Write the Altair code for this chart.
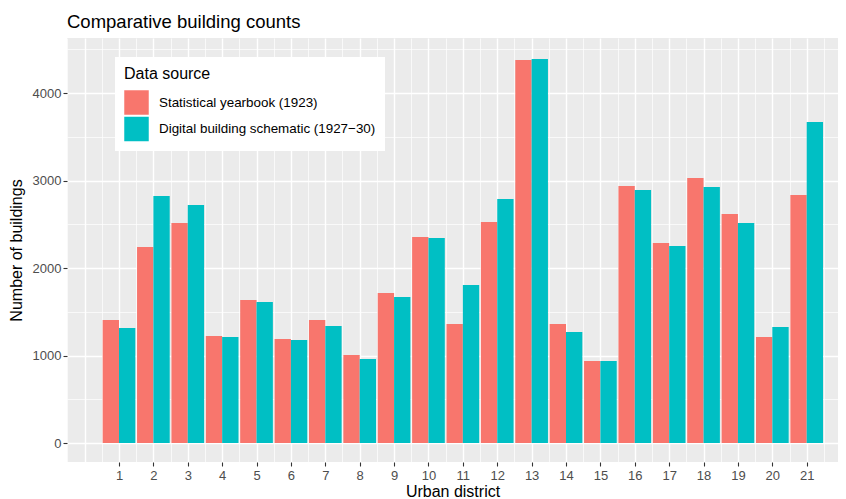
import altair as alt
import pandas as pd

districts = list(range(1, 22))
yearbook = [1406, 2240, 2514, 1223, 1634, 1189, 1406, 1006, 1714, 2354, 1360,
            2526, 4377, 1360, 937, 2937, 2286, 3029, 2617, 1211, 2834]
schematic = [1314, 2823, 2720, 1211, 1611, 1177, 1337, 960, 1669, 2343, 1806,
             2789, 4389, 1269, 937, 2891, 2251, 2926, 2514, 1326, 3669]
sources = ["Statistical yearbook (1923)", "Digital building schematic (1927\u221230)"]
colors = ["#F8766D", "#00BFC4"]

rows = []
for d, a, b in zip(districts, yearbook, schematic):
    rows.append({"district": d, "source": sources[0], "count": a})
    rows.append({"district": d, "source": sources[1], "count": b})
df = pd.DataFrame(rows)

FONT = "Liberation Sans"
x_vals = [v / 2 for v in range(-1, 44)]
y_vals = list(range(0, 4501, 500))

x_major = "datum.value % 1 === 0"
x_lab = "datum.value % 1 === 0 && datum.value >= 1 && datum.value <= 21"
y_major = "datum.value % 1000 === 0"

chart = alt.Chart(df).transform_calculate(
    x0=f"datum.district - (datum.source === '{sources[0]}' ? 0.475 : 0)",
    x1=f"datum.district + (datum.source === '{sources[0]}' ? 0 : 0.475)",
).mark_bar(strokeWidth=0).encode(
    x=alt.X("x0:Q",
            scale=alt.Scale(domain=[-0.512, 21.91], nice=False, zero=False),
            axis=alt.Axis(values=x_vals, title="Urban district",
                          labelExpr=f"{x_lab} ? format(datum.value, 'd') : ''",
                          grid=True, gridColor="white",
                          gridWidth={"condition": {"test": x_major, "value": 1.4}, "value": 0.7},
                          tickOpacity={"condition": {"test": x_lab, "value": 1}, "value": 0},
                          tickColor="#333333", tickSize=4, tickWidth=1.1,
                          domain=False, labelColor="#4D4D4D", labelFontSize=13,
                          labelFont=FONT, labelPadding=3,
                          titleFont=FONT, titleFontSize=16, titleFontWeight="normal",
                          titleColor="black", titleBaseline="alphabetic",
                          titleY=34, labelFlush=False, labelOverlap=False)),
    x2="x1:Q",
    y=alt.Y("count:Q",
            scale=alt.Scale(domain=[-217, 4629], nice=False, zero=False),
            axis=alt.Axis(values=y_vals, title="Number of buildings",
                          labelExpr=f"{y_major} ? format(datum.value, 'd') : ''",
                          grid=True, gridColor="white",
                          gridWidth={"condition": {"test": y_major, "value": 1.4}, "value": 0.7},
                          tickOpacity={"condition": {"test": y_major, "value": 1}, "value": 0},
                          tickColor="#333333", tickSize=4, tickWidth=1.1,
                          domain=False, labelColor="#4D4D4D", labelFontSize=13,
                          labelFont=FONT, labelPadding=2,
                          titleFont=FONT, titleFontSize=16, titleFontWeight="normal",
                          titleColor="black", titleAngle=-90, titleAlign="center",
                          titleBaseline="alphabetic", titleX=-45.5, titleY=212,
                          labelFlush=False, labelOverlap=False)),
    y2=alt.datum(0),
    color=alt.Color("source:N",
                    scale=alt.Scale(domain=sources, range=colors),
                    legend=alt.Legend(title="Data source", orient="none",
                                      legendX=48, legendY=19, fillColor="white",
                                      padding=9, symbolType="square", symbolSize=600,
                                      symbolStrokeWidth=0, symbolOpacity=1,
                                      labelFont=FONT, labelFontSize=13.4, labelColor="black",
                                      labelLimit=400, labelOffset=10,
                                      titleFont=FONT, titleFontSize=16,
                                      titleFontWeight="normal", titleColor="black",
                                      titlePadding=8, rowPadding=1.5)),
).properties(
    width=771, height=424,
    title=alt.TitleParams("Comparative building counts", anchor="start", frame="group",
                          font=FONT, fontSize=18.5, fontWeight="normal", color="black",
                          baseline="alphabetic", offset=10, dy=18.5),
    autosize=alt.AutoSizeParams(type="none"),
    padding={"left": 59, "top": 30, "right": 0, "bottom": 37},
    background="white",
).configure_view(fill="#EBEBEB", strokeWidth=0)

chart.save("out.html", embed_options={"renderer": "svg", "actions": False})
